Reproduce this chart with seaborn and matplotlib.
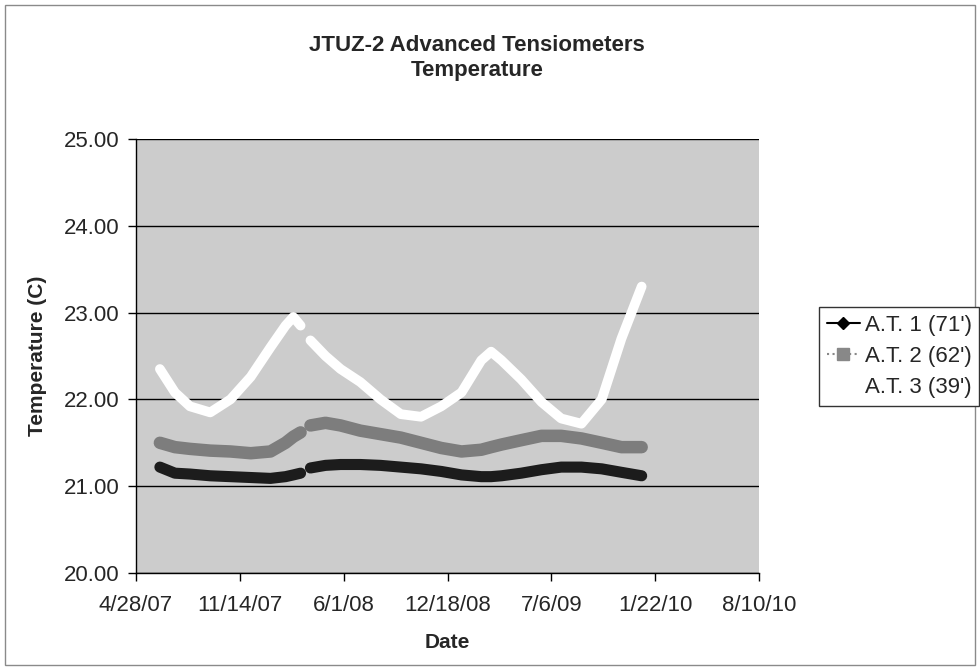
import pandas as pd
import seaborn as sns
import matplotlib.pyplot as plt
from matplotlib.lines import Line2D
from matplotlib.patches import Rectangle

# Fechas de lectura (dos tramos, con un hueco en marzo 2008)
fechas_1 = ['2007-06-13', '2007-07-12', '2007-08-10', '2007-09-18', '2007-10-27',
            '2007-12-05', '2008-01-12', '2008-02-10', '2008-02-25', '2008-03-10']
fechas_2 = ['2008-03-29', '2008-04-27', '2008-05-26', '2008-07-03', '2008-08-11',
            '2008-09-19', '2008-10-28', '2008-12-06', '2009-01-14', '2009-02-21',
            '2009-03-12', '2009-04-01', '2009-05-09', '2009-06-17', '2009-07-25',
            '2009-09-02', '2009-10-11', '2009-11-18', '2009-12-27']

at1_1 = [21.22, 21.15, 21.14, 21.12, 21.11, 21.10, 21.09, 21.11, 21.13, 21.15]
at1_2 = [21.21, 21.24, 21.25, 21.25, 21.24, 21.22, 21.20, 21.17, 21.13, 21.11,
         21.11, 21.12, 21.15, 21.19, 21.22, 21.22, 21.20, 21.16, 21.12]

at2_1 = [21.50, 21.45, 21.43, 21.41, 21.40, 21.38, 21.40, 21.50, 21.57, 21.62]
at2_2 = [21.70, 21.73, 21.70, 21.64, 21.60, 21.56, 21.50, 21.44, 21.40, 21.42,
         21.45, 21.48, 21.53, 21.58, 21.58, 21.55, 21.50, 21.45, 21.45]

at3_1 = [22.35, 22.08, 21.92, 21.85, 22.00, 22.26, 22.60, 22.85, 22.95, 22.85]
at3_2 = [22.68, 22.50, 22.35, 22.20, 22.00, 21.83, 21.80, 21.92, 22.08, 22.45,
         22.55, 22.45, 22.23, 21.97, 21.78, 21.72, 22.00, 22.70, 23.30]

series = ["A.T. 1 (71')", "A.T. 2 (62')", "A.T. 3 (39')"]
ticks_x = ['2007-04-28', '2007-11-14', '2008-06-01', '2008-12-18',
           '2009-07-06', '2010-01-22', '2010-08-10']

filas = []
for nombre, v1, v2 in zip(series, [at1_1, at2_1, at3_1], [at1_2, at2_2, at3_2]):
    for f, v in zip(fechas_1, v1):
        filas.append((nombre, 1, f, v))
    for f, v in zip(fechas_2, v2):
        filas.append((nombre, 2, f, v))
df = pd.DataFrame(filas, columns=['serie', 'tramo', 'fecha', 'temp'])
df['fecha'] = pd.to_datetime(df['fecha'])

sns.set_style('white')
plt.rcParams['font.family'] = ['Liberation Sans', 'DejaVu Sans']

fig = plt.figure(figsize=(9.8, 6.7), dpi=100)
ax = fig.add_axes([136/980, 1 - 573/670, (759 - 136)/980, (573 - 139)/670])
ax.set_facecolor('#cccccc')

colores = {series[0]: '#1c1c1c', series[1]: '#7d7d7d', series[2]: '#ffffff'}
grosor = {series[0]: 8, series[1]: 9, series[2]: 7}

for nombre in series:
    sns.lineplot(data=df[df['serie'] == nombre], x='fecha', y='temp', units='tramo',
                 estimator=None, color=colores[nombre], linewidth=grosor[nombre],
                 solid_capstyle='round', ax=ax, legend=False, zorder=3)

ax.set_ylim(20, 25)
ax.set_yticks([20, 21, 22, 23, 24, 25])
ax.yaxis.set_major_formatter(plt.FuncFormatter(lambda v, p: f'{v:.2f}'))
ax.grid(axis='y', color='black', linewidth=1, zorder=1)
ax.set_axisbelow(True)

t = pd.to_datetime(ticks_x)
ax.set_xlim(t[0], t[-1])
ax.set_xticks(t)
ax.set_xticklabels([f'{d.month}/{d.day}/{d.strftime("%y")}' for d in t])

for s in ['top', 'right']:
    ax.spines[s].set_visible(False)
for s in ['left', 'bottom']:
    ax.spines[s].set_color('black')
    ax.spines[s].set_linewidth(1)
ax.tick_params(axis='both', direction='out', length=6, width=1, color='black',
               labelsize=16, bottom=True, left=True)
ax.tick_params(axis='x', pad=10)
ax.tick_params(axis='y', pad=6)

ax.set_xlabel('Date', fontsize=15, fontweight='bold', labelpad=12)
ax.set_ylabel('Temperature (C)', fontsize=15, fontweight='bold', labelpad=12)

fig.text(0.487, 1 - 58/670, 'JTUZ-2 Advanced Tensiometers\nTemperature',
         ha='center', va='center', fontsize=16, fontweight='bold', linespacing=1.3)

handles = [
    Line2D([], [], color='black', linewidth=1.5, marker='D', markersize=6),
    Line2D([], [], color='#888888', linewidth=1.5, linestyle=':', marker='s',
           markersize=8, markerfacecolor='#888888'),
    Line2D([], [], color='white', linewidth=1.5),
]
leg = fig.legend(handles, series, loc='upper left', bbox_to_anchor=(819/980, 1 - 307/670),
                 fontsize=16, frameon=True, fancybox=False, framealpha=1, edgecolor='#333333',
                 handlelength=1.5, handletextpad=0.2, labelspacing=0.45, borderpad=0.35,
                 borderaxespad=0)
leg.get_frame().set_linewidth(1)

fig.patches.append(Rectangle((5/980, 5/670), 970/980, 660/670, transform=fig.transFigure,
                             fill=False, edgecolor='#8a8a8a', linewidth=1))

plt.savefig('out.png', dpi=100)
